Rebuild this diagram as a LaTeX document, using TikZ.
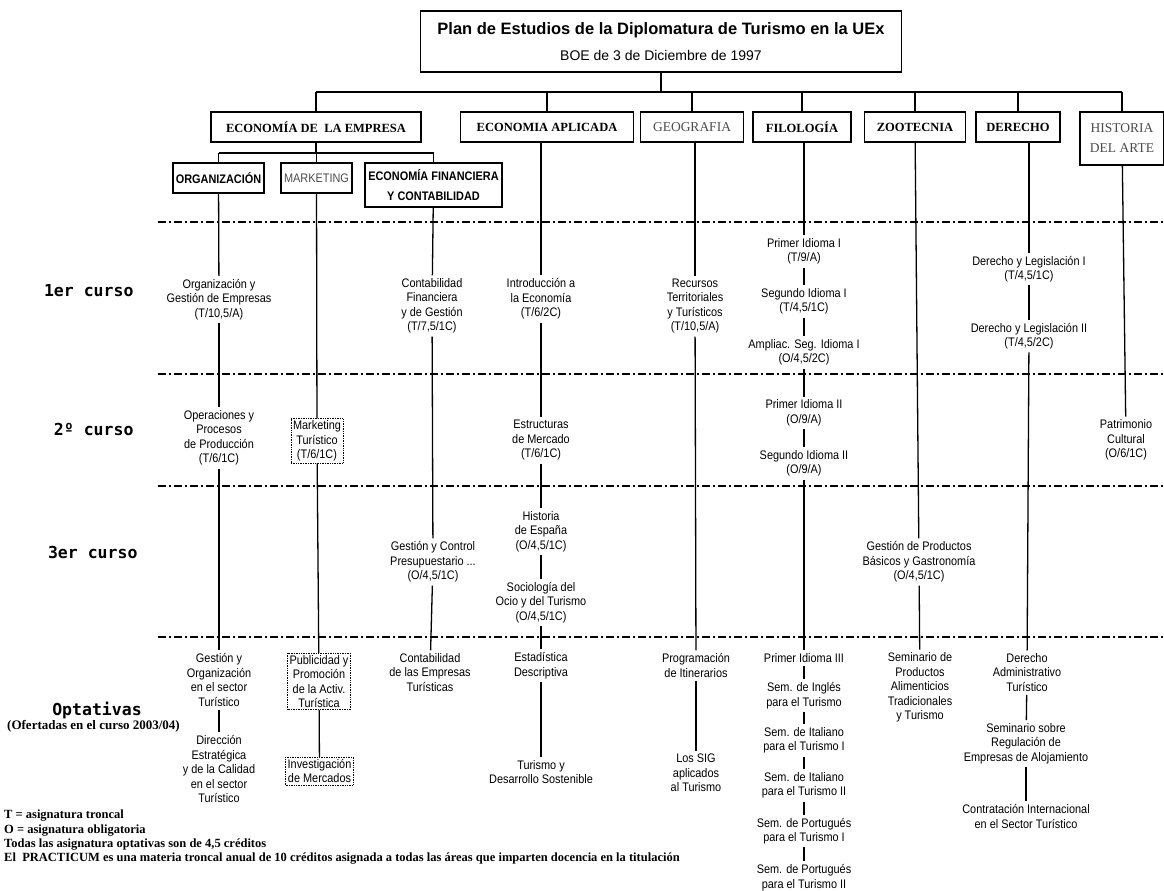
\documentclass[tikz,border=0pt]{standalone}
\usepackage{fontspec}
\setmainfont{Liberation Serif}
\newfontfamily\arial{Liberation Sans}
\newfontfamily\arialn[FakeStretch=0.88]{Liberation Sans}
\newfontfamily\consola{DejaVu Sans Mono}

\begin{document}
\begin{tikzpicture}[x=1pt,y=-1pt,
  linea/.style={line width=1.3pt},
  grueso/.style={line width=2.2pt},
  divisoria/.style={line width=1.3pt,dash pattern=on 8pt off 3pt on 2pt off 3pt},
  area/.style={draw,line width=1.1pt,font=\bfseries\fontsize{12.5}{15}\selectfont,minimum height=30pt,inner sep=0pt},
  areagris/.style={area,font=\fontsize{13.5}{20}\selectfont,text=black!70},
  subarea/.style={draw,line width=1.1pt,font=\arialn\bfseries\fontsize{12.4}{20}\selectfont,minimum height=30pt,inner sep=0pt,align=center},
  asig/.style={font=\arialn\fontsize{12.4}{14.5}\selectfont,align=center,inner sep=3pt},
  optbox/.style={asig,draw,densely dotted,line width=0.7pt,inner sep=2pt},
  curso/.style={font=\consola\bfseries\fontsize{16.5}{18}\selectfont}]
  \useasboundingbox (0,0) rectangle (1164,891);
  \node[draw,line width=1.3pt,minimum width=481pt,minimum height=61pt,align=center,font=\arial\fontsize{14}{17}\selectfont] (titulo) at (661,41.5)
    {{\bfseries\fontsize{16.5}{20}\selectfont Plan de Estudios de la Diplomatura de Turismo en la UEx}\\[9pt]BOE de 3 de Diciembre de 1997};
  \node[area,minimum width=210pt] (empresa) at (316,127) {ECONOMÍA DE\ \ LA EMPRESA};
  \node[area,minimum width=173pt] (aplicada) at (547,127) {ECONOMIA APLICADA};
  \node[areagris,minimum width=103pt] (geografia) at (692,127) {GEOGRAFIA};
  \node[area,minimum width=98pt] (filologia) at (802,127) {FILOLOGÍA};
  \node[area,minimum width=101pt] (zootecnia) at (915,127) {ZOOTECNIA};
  \node[area,minimum width=84pt] (derecho) at (1018,127) {DERECHO};
  \node[areagris,minimum width=84pt,minimum height=53pt,align=center] (historia) at (1122,138.5) {HISTORIA\\DEL ARTE};
  \node[subarea,minimum width=91pt] (organizacion) at (218.5,178) {ORGANIZACIÓN};
  \node[subarea,font=\arialn\fontsize{12.4}{20}\selectfont,text=black!70,minimum width=71pt] (marketing) at (316.5,178) {MARKETING};
  \node[subarea,minimum width=137pt,minimum height=44pt] (financiera) at (433.5,185) {ECONOMÍA FINANCIERA\\Y CONTABILIDAD};
  \coordinate (bus) at (661,92);
  \coordinate (ramal) at (316,153);

  \foreach \y in {222,374,486,637}
    \draw[divisoria] (158,\y) -- (1164,\y);
  \node[curso,anchor=east] (curso1) at (137,291) {1er curso};
  \node[curso,anchor=east] (curso2) at (137,429) {2º curso};
  \node[curso,anchor=east] (curso3) at (141,552) {3er curso};
  \node[curso] (optativas) at (97,710) {Optativas};
  \node[font=\bfseries\fontsize{13}{15}\selectfont] (ofertadas) at (93.5,726) {(Ofertadas en el curso 2003/04)};

  \node[asig] (a1) at (219,299.5) {Organización y\\Gestión de Empresas\\(T/10,5/A)};
  \node[asig] (a2) at (219,438) {Operaciones y\\Procesos\\de Producción\\(T/6/1C)};
  \node[asig] (a3) at (219,680) {Gestión y\\Organización\\en el sector\\Turístico};
  \node[asig] (a4) at (219,769) {Dirección\\Estratégica\\y de la Calidad\\en el sector\\Turístico};
  \node[optbox] (b1) at (317,441) {Marketing\\Turístico\\(T/6/1C)};
  \node[optbox] (b2) at (319,681.5) {Publicidad y\\Promoción\\de la Activ.\\Turística};
  \node[optbox] (b3) at (319.5,771) {Investigación\\de Mercados};
  \node[asig] (c1) at (432,306) {Contabilidad\\Financiera\\y de Gestión\\(T/7,5/1C)};
  \node[asig] (c2) at (433,562) {Gestión y Control\\Presupuestario ...\\(O/4,5/1C)};
  \node[asig] (c3) at (430,672.5) {Contabilidad\\de las Empresas\\Turísticas};
  \node[asig] (d1) at (541,299) {Introducción a\\la Economía\\(T/6/2C)};
  \node[asig] (d2) at (541,440.5) {Estructuras\\de Mercado\\(T/6/1C)};
  \node[asig] (d3) at (541,531.5) {Historia\\de España\\(O/4,5/1C)};
  \node[asig] (d4) at (541,602.5) {Sociología del\\Ocio y del Turismo\\(O/4,5/1C)};
  \node[asig] (d5) at (541,665.5) {Estadística\\Descriptiva};
  \node[asig] (d6) at (541,772) {Turismo y\\Desarrollo Sostenible};
  \node[asig] (e1) at (695,306) {Recursos\\Territoriales\\y Turísticos\\(T/10,5/A)};
  \node[asig] (e2) at (696,665.5) {Programación\\de Itinerarios};
  \node[asig] (e3) at (696,773) {Los SIG\\aplicados\\al Turismo};
  \node[asig] (f1) at (804,251.5) {Primer Idioma I\\(T/9/A)};
  \node[asig] (f2) at (804,301.5) {Segundo Idioma I\\(T/4,5/1C)};
  \node[asig] (f3) at (804,352.5) {Ampliac. Seg. Idioma I\\(O/4,5/2C)};
  \node[asig] (f4) at (804,413) {Primer Idioma II\\(O/9/A)};
  \node[asig] (f5) at (804,463.5) {Segundo Idioma II\\(O/9/A)};
  \node[asig] (f6) at (804,658) {Primer Idioma III};
  \node[asig] (f7) at (804,695.5) {Sem. de Inglés\\para el Turismo};
  \node[asig] (f8) at (804,740.5) {Sem. de Italiano\\para el Turismo I};
  \node[asig] (f9) at (804,785.5) {Sem. de Italiano\\para el Turismo II};
  \node[asig] (f10) at (804,831) {Sem. de Portugués\\para el Turismo I};
  \node[asig] (f11) at (804,877.5) {Sem. de Portugués\\para el Turismo II};
  \node[asig] (g1) at (919,562) {Gestión de Productos\\Básicos y Gastronomía\\(O/4,5/1C)};
  \node[asig] (g2) at (920,687.5) {Seminario de\\Productos\\Alimenticios\\Tradicionales\\y Turismo};
  \node[asig] (h1) at (1029,269) {Derecho y Legislación I\\(T/4,5/1C)};
  \node[asig] (h2) at (1029,336) {Derecho y Legislación II\\(T/4,5/2C)};
  \node[asig] (h3) at (1027,672.5) {Derecho\\Administrativo\\Turístico};
  \node[asig] (h4) at (1026,743.5) {Seminario sobre\\Regulación de\\Empresas de Alojamiento};
  \node[asig] (h5) at (1026,816.5) {Contratación Internacional\\en el Sector Turístico};
  \node[asig] (i1) at (1126,440) {Patrimonio\\Cultural\\(O/6/1C)};

  \node[anchor=north west,align=left,inner sep=0pt,font=\bfseries\fontsize{12.5}{14.3}\selectfont] (leyenda) at (4,810)
    {T = asignatura troncal\\O = asignatura obligatoria\\Todas las asignatura optativas son de 4,5 créditos\\El\ \ PRACTICUM es una materia troncal anual de 10 créditos asignada a todas las áreas que imparten docencia en la titulación};

  \draw[grueso] (titulo) -- (bus);
  \draw[grueso] (empresa |- bus) -- (historia |- bus);
  \foreach \n in {empresa,aplicada,geografia,filologia,zootecnia,derecho,historia}
    \draw[linea] (\n |- bus) -- (\n);
  \draw[linea] (empresa) -- (ramal);
  \draw[linea] (organizacion |- ramal) -- (financiera |- ramal);
  \foreach \n in {organizacion,marketing,financiera}
    \draw[linea] (\n |- ramal) -- (\n);
  \path[linea] (organizacion) edge (a1) (a1) edge (a2) (a2) edge (a3) (a3) edge (a4)
    (marketing) edge (b1) (b1) edge (b2) (b2) edge (b3)
    (financiera) edge (c1) (c1) edge (c2) (c2) edge (c3)
    (aplicada.south -| d1) edge (d1) (d1) edge (d2) (d2) edge (d3) (d3) edge (d4) (d4) edge (d5) (d5) edge (d6)
    (geografia.south -| e1) edge (e1) (e1) edge (e2) (e2) edge (e3)
    (filologia.south -| f1) edge (f1) (f1) edge (f2) (f2) edge (f3) (f3) edge (f4) (f4) edge (f5) (f5) edge (f6)
    (f6) edge (f7) (f7) edge (f8) (f8) edge (f9) (f9) edge (f10) (f10) edge (f11)
    (zootecnia) edge (g1) (g1) edge (g2)
    (derecho.south -| h1) edge (h1) (h1) edge (h2) (h2) edge (h3) (h3) edge (h4) (h4) edge (h5)
    (historia) edge (i1);
\end{tikzpicture}
\end{document}
